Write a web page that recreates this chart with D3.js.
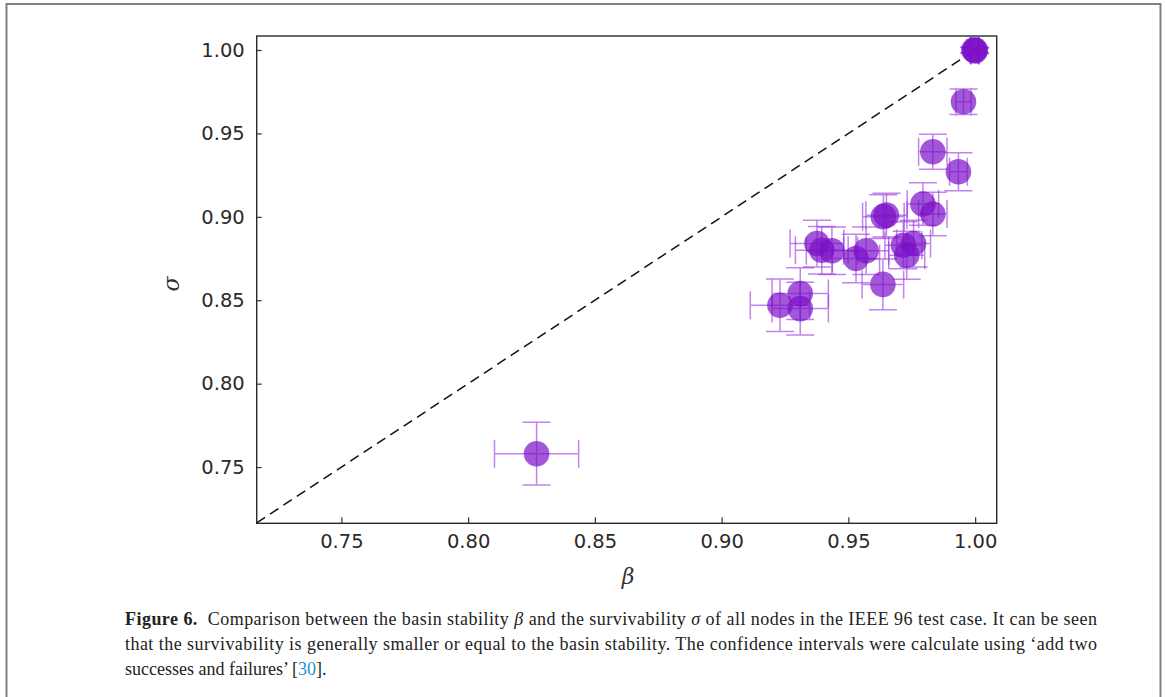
<!DOCTYPE html>
<html>
<head>
<meta charset="utf-8">
<script src="https://cdn.jsdelivr.net/npm/d3@7"></script>
<style>
  body { margin: 0; background: #fff; }
  svg { display: block; }
  .tick text { font-family: "DejaVu Sans", sans-serif; font-size: 19.5px; fill: #2a2a2a; }
  .caption { font-family: "Liberation Serif", serif; font-size: 18px; fill: #222; }
</style>
</head>
<body>
<svg id="chart" width="1165" height="697"></svg>
<script>
'use strict';

// basin stability (beta) and survivability (sigma) per node
var betaValues  = [0.827, 0.923, 0.931, 0.931, 0.9376, 0.9395, 0.9435, 0.953, 0.957, 0.9638, 0.965,
                   0.9636, 0.9717, 0.9757, 0.973, 0.9794, 0.9833, 0.9833, 0.9934, 0.9954, 1.0, 0.9995, 1.0];
var sigmaValues = [0.758, 0.847, 0.854, 0.845, 0.884, 0.880, 0.8797, 0.875, 0.8797, 0.9001, 0.901,
                   0.8595, 0.883, 0.884, 0.877, 0.9077, 0.9017, 0.939, 0.927, 0.969, 1.0, 1.0, 0.9995];
// half widths of the confidence intervals
var betaErrors  = [0.0166, 0.0117, 0.0111, 0.0111, 0.0106, 0.0104, 0.0101, 0.0093, 0.0089, 0.0082, 0.0081,
                   0.0082, 0.0073, 0.0067, 0.0071, 0.0062, 0.0056, 0.0056, 0.0035, 0.0030, 0.0016, 0.0016, 0.0016];
var sigmaErrors = [0.0188, 0.0158, 0.0155, 0.0158, 0.0140, 0.0142, 0.0142, 0.0145, 0.0142, 0.0131, 0.0131,
                   0.0152, 0.0141, 0.0140, 0.0144, 0.0127, 0.0130, 0.0105, 0.0114, 0.0076, 0.0016, 0.0016, 0.0016];

var tickValues = [0.75, 0.80, 0.85, 0.90, 0.95, 1.00];
var xDomain = [0.7166, 1.0085];
var yDomain = [0.7163, 1.0084];
var diagonal = [0.7166, 1.0];

var captionLines = [
  [{t: "Figure 6.", b: true}, {t: "  Comparison between the basin stability "}, {t: "β", i: true},
   {t: " and the survivability "}, {t: "σ", i: true},
   {t: " of all nodes in the IEEE 96 test case. It can be seen"}],
  [{t: "that the survivability is generally smaller or equal to the basin stability. The confidence intervals were calculate using ‘add two"}],
  [{t: "successes and failures’ ["}, {t: "30", link: true}, {t: "]."}]
];

var Chart = (function() {

  function Chart(el) {
    this.svg = d3.select(el);
    this.left = 256.7; this.right = 996.7;
    this.top = 36; this.bottom = 523.3;
    this.init();
  }

  Chart.prototype.init = function() {
    this.data = betaValues.map(function(b, i) {
      return { x: b, y: sigmaValues[i], ex: betaErrors[i], ey: sigmaErrors[i] };
    });
    this.x = d3.scaleLinear().domain(xDomain).range([this.left, this.right]);
    this.y = d3.scaleLinear().domain(yDomain).range([this.bottom, this.top]);
    this.drawBorder();
    this.drawAxes();
    this.drawPoints();
    this.drawCaption();
  };

  Chart.prototype.drawBorder = function() {
    this.svg.append("path")
      .attr("d", "M6.5,697V4H1160.5V697")
      .attr("fill", "none")
      .attr("stroke", "#808080")
      .attr("stroke-width", 2);
  };

  Chart.prototype.drawAxes = function() {
    var svg = this.svg, x = this.x, y = this.y;
    var fmt = d3.format(".2f");

    var xAxis = svg.append("g")
      .attr("transform", "translate(0," + this.bottom + ")")
      .call(d3.axisBottom(x).tickValues(tickValues).tickFormat(fmt).tickSize(-6).tickPadding(11));
    var yAxis = svg.append("g")
      .attr("transform", "translate(" + this.left + ",0)")
      .call(d3.axisLeft(y).tickValues(tickValues).tickFormat(fmt).tickSize(-5).tickPadding(12));

    [xAxis, yAxis].forEach(function(a) {
      a.select(".domain").remove();
      a.selectAll(".tick line").attr("stroke", "#333").attr("stroke-width", 1.2);
    });

    svg.append("rect")
      .attr("x", this.left).attr("y", this.top)
      .attr("width", this.right - this.left)
      .attr("height", this.bottom - this.top)
      .attr("fill", "none")
      .attr("stroke", "#2a2a2a")
      .attr("stroke-width", 1.4);

    svg.append("text")
      .attr("x", 628).attr("y", 584)
      .attr("text-anchor", "middle")
      .style("font-family", "'DejaVu Serif', serif")
      .style("font-style", "italic")
      .style("font-size", "22px")
      .attr("fill", "#333")
      .text("β");

    svg.append("text")
      .attr("transform", "translate(179,284) rotate(-90)")
      .attr("text-anchor", "middle")
      .style("font-family", "'DejaVu Serif', serif")
      .style("font-style", "italic")
      .style("font-size", "22px")
      .attr("fill", "#333")
      .text("σ");
  };

  Chart.prototype.drawPoints = function() {
    var svg = this.svg, x = this.x, y = this.y;
    var cap = 14;
    var color = "#7a10c8";

    var plot = svg.append("g");

    // dashed diagonal sigma = beta
    plot.append("line")
      .attr("x1", x(diagonal[0])).attr("y1", y(diagonal[0]))
      .attr("x2", x(diagonal[1])).attr("y2", y(diagonal[1]))
      .attr("stroke", "#111")
      .attr("stroke-width", 1.5)
      .attr("stroke-dasharray", "10,6");

    var bars = plot.append("g")
      .attr("stroke", "#9a30e0")
      .attr("stroke-opacity", 0.6)
      .attr("stroke-width", 1.5)
      .attr("fill", "none");

    var barPath = function(d) {
      var cx = x(d.x), cy = y(d.y);
      var x0 = x(d.x - d.ex), x1 = x(d.x + d.ex);
      var y0 = y(d.y - d.ey), y1 = y(d.y + d.ey);
      return "M" + x0 + "," + cy + "H" + x1 +
        "M" + x0 + "," + (cy - cap) + "V" + (cy + cap) +
        "M" + x1 + "," + (cy - cap) + "V" + (cy + cap) +
        "M" + cx + "," + y0 + "V" + y1 +
        "M" + (cx - cap) + "," + y0 + "H" + (cx + cap) +
        "M" + (cx - cap) + "," + y1 + "H" + (cx + cap);
    };

    bars.selectAll("path")
      .data(this.data)
      .enter().append("path")
      .attr("d", barPath);

    plot.append("g").selectAll("circle")
      .data(this.data)
      .enter().append("circle")
      .attr("cx", function(d) { return x(d.x); })
      .attr("cy", function(d) { return y(d.y); })
      .attr("r", 12.8)
      .attr("fill", color)
      .attr("fill-opacity", 0.7);
  };

  Chart.prototype.drawCaption = function() {
    var svg = this.svg;
    var baselines = [625, 650, 675];
    var widths = [972, 972, null];

    captionLines.forEach(function(parts, i) {
      var text = svg.append("text")
        .attr("class", "caption")
        .attr("x", 125)
        .attr("y", baselines[i])
        .attr("xml:space", "preserve");
      if (widths[i]) text.attr("textLength", widths[i]).attr("lengthAdjust", "spacing");
      parts.forEach(function(p) {
        var ts = text.append("tspan").text(p.t);
        if (p.b) ts.style("font-weight", "bold");
        if (p.i) ts.style("font-style", "italic");
        if (p.link) ts.attr("fill", "#1e8fd0");
      });
    });
  };

  return Chart;

})();

new Chart("#chart");
</script>
</body>
</html>
